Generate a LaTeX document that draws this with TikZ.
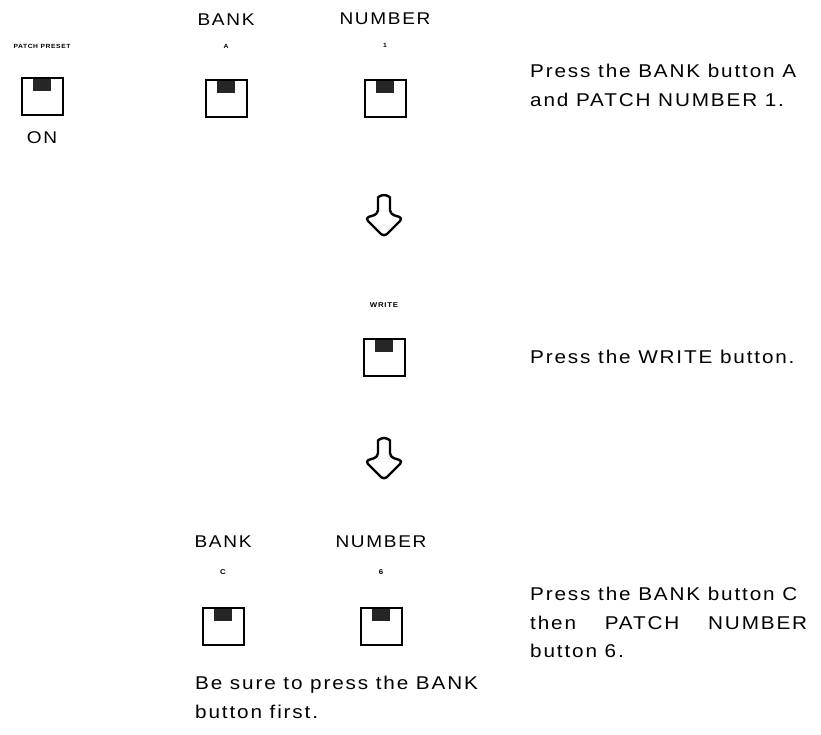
\documentclass[tikz,border=0pt]{standalone}
\usepackage{fontspec}
\setmainfont{Liberation Sans}[LetterSpace=10, FakeStretch=1.12]
\usetikzlibrary{positioning, calc}

\tikzset{
  button/.style={draw, line width=2pt, minimum width=41pt, minimum height=37pt, inner sep=0pt,
    path picture={\fill[black!85] ($(path picture bounding box.north)+(-9pt,-1pt)$) rectangle ++(18pt,-12pt);}},
  keylabel/.style={font=\bfseries\fontsize{6}{7}\selectfont, inner sep=0pt},
  smallkey/.style={font=\bfseries\fontsize{7}{8}\selectfont, inner sep=0pt},
  title/.style={font=\fontsize{17}{20}\selectfont, inner sep=0pt},
  caption/.style={font=\fontsize{18.5}{28.5}\selectfont, align=left, inner sep=0pt, anchor=north west},
  pics/flowarrow/.style={code={
    \draw[line width=2.4pt, rounded corners=4pt, line join=round]
      (-6,19) -- (-6,6) arc[start angle=180, end angle=360, radius=6] -- (6,19)
      -- (19,23) -- (0,42) -- (-19,23) -- cycle;
  }}
}

\begin{document}
\begin{tikzpicture}[x=1pt, y=-1pt, on grid]
  \useasboundingbox (0,0) rectangle (821,735);

  % first step
  \node[button] (preset) at (42,97) {};
  \node[button] (bankA) at (226,99) {};
  \node[button] (numOne) at (385,99) {};
  \node[keylabel] (presetlbl) [above=51pt of preset] {PATCH PRESET};
  \node[keylabel] (lblA) [above=53pt of bankA] {A};
  \node[keylabel] (lblOne) [above=54pt of numOne] {1};
  \node[title] (bankT) [above=26pt of lblA] {BANK};
  \node[title] (numT) [above=26pt of lblOne] {NUMBER};
  \node[title] (onT) [below=41pt of preset] {ON};
  \node[caption] (capOne) at (530,64) {Press the BANK button A\\ and PATCH NUMBER 1.};

  \pic (arrowA) at (384,195) {flowarrow};

  % second step
  \node[button] (write) at (384,357) {};
  \node[smallkey] (writelbl) [above=52pt of write] {WRITE};
  \node[caption] (capTwo) at (530,350) {Press the WRITE button.};

  \pic (arrowB) at (384,438) {flowarrow};

  % third step
  \node[button] (bankC) at (223,626) {};
  \node[button] (numSix) at (381,626) {};
  \node[smallkey] (lblC) [above=54pt of bankC] {C};
  \node[smallkey] (lblSix) [above=54pt of numSix] {6};
  \node[title] (bankT2) [above=30pt of lblC] {BANK};
  \node[title] (numT2) [above=30pt of lblSix] {NUMBER};
  \node[caption] (capThree) at (530,587)
    {Press the BANK button C\\ \makebox[277pt][l]{then\hfill PATCH\hfill NUMBER}\\ button 6.};
  \node[caption] (note) at (195,676) {Be sure to press the BANK\\ button first.};
\end{tikzpicture}
\end{document}
